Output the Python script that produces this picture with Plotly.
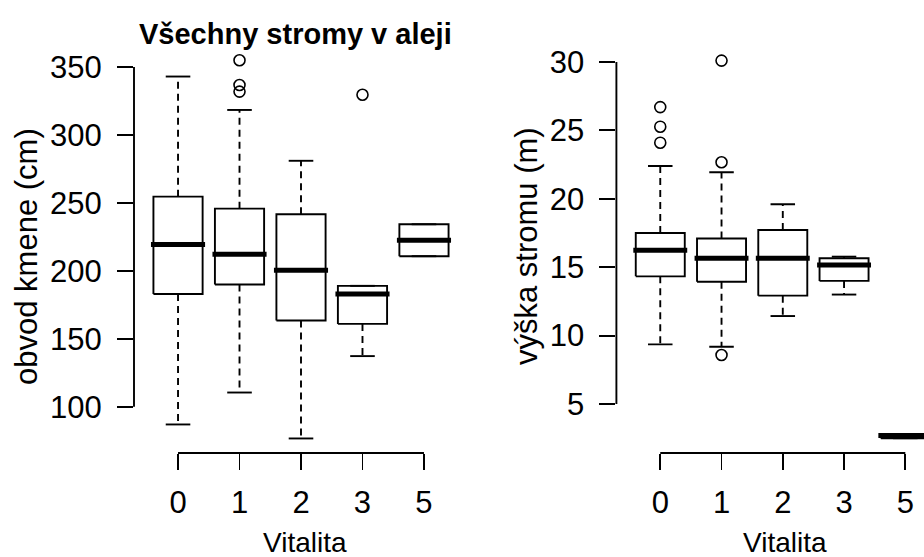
import plotly.graph_objects as go

# ---------------- data ----------------
categories = ["0", "1", "2", "3", "5"]

# obvod kmene (cm)
obvod_low = [87, 110.5, 76.7, 137.3, 210.8]
obvod_q1 = [183, 190, 163.5, 161, 210.8]
obvod_med = [219.5, 212.3, 200.5, 183, 222.5]
obvod_q3 = [254.6, 245.8, 241.7, 189, 234.3]
obvod_high = [343, 318.4, 281, 189, 234.3]
obvod_out_cat = ["1", "1", "1", "3"]
obvod_out_val = [355, 336.8, 331.9, 329.6]
obvod_ticks = [100, 150, 200, 250, 300, 350]

# výška stromu (m)
vyska_low = [9.36, 9.19, 11.43, 13.0, 2.5]
vyska_q1 = [14.33, 13.94, 12.92, 14.0, 2.5]
vyska_med = [16.24, 15.65, 15.65, 15.16, 2.7]
vyska_q3 = [17.5, 17.1, 17.72, 15.65, 2.8]
vyska_high = [22.4, 21.94, 19.6, 15.77, 2.8]
vyska_out_cat = ["0", "0", "0", "1", "1", "1"]
vyska_out_val = [26.7, 25.27, 24.1, 30.1, 22.67, 8.58]
vyska_ticks = [5, 10, 15, 20, 25, 30]

title_text = "Všechny stromy v aleji"
ylab_left = "obvod kmene (cm)"
ylab_right = "výška stromu (m)"
xlab = "Vitalita"

# ---------------- style ----------------
FONT = "Liberation Sans, Arial, sans-serif"
FS_TICK = 31
FS_YLAB = 31
FS_XLAB = 28
HALF = 0.4      # half box width (boxwex 0.8)
STAPLE = 0.2    # half staple width
LW = 1.9

fig = go.Figure()


def add_boxes(low, q1, med, q3, high, out_cat, out_val, xa, ya):
    pos = list(range(1, len(categories) + 1))
    bx, by, mx, my, wx, wy, sx, sy = [], [], [], [], [], [], [], []
    for p, lo, a, m, b, hi in zip(pos, low, q1, med, q3, high):
        bx += [p - HALF, p + HALF, p + HALF, p - HALF, p - HALF, None]
        by += [a, a, b, b, a, None]
        mx += [p - HALF - 0.04, p + HALF + 0.04, None]
        my += [m, m, None]
        wx += [p, p, None, p, p, None]
        wy += [b, hi, None, a, lo, None]
        sx += [p - STAPLE, p + STAPLE, None, p - STAPLE, p + STAPLE, None]
        sy += [hi, hi, None, lo, lo, None]
    common = dict(xaxis=xa, yaxis=ya, showlegend=False, hoverinfo="skip", mode="lines")
    fig.add_trace(go.Scatter(x=wx, y=wy, line=dict(color="black", width=LW, dash="7px,5px"), **common))
    fig.add_trace(go.Scatter(x=sx, y=sy, line=dict(color="black", width=LW), **common))
    fig.add_trace(go.Scatter(x=bx, y=by, line=dict(color="black", width=LW), **common))
    fig.add_trace(go.Scatter(x=mx, y=my, line=dict(color="black", width=5), **common))
    ox = [categories.index(c) + 1 for c in out_cat]
    fig.add_trace(go.Scatter(x=ox, y=out_val, mode="markers", xaxis=xa, yaxis=ya,
                             showlegend=False, hoverinfo="skip",
                             marker=dict(symbol="circle-open", size=11, color="black",
                                         line=dict(width=1.6, color="black"))))


add_boxes(obvod_low, obvod_q1, obvod_med, obvod_q3, obvod_high, obvod_out_cat, obvod_out_val, "x", "y")
add_boxes(vyska_low, vyska_q1, vyska_med, vyska_q3, vyska_high, vyska_out_cat, vyska_out_val, "x2", "y2")

W, H = 924, 557
ydom = [1 - 453 / H, 1 - 45 / H]

tick_style = dict(ticks="outside", ticklen=16, tickwidth=LW, tickcolor="black",
                  showgrid=False, zeroline=False, showline=False,
                  tickfont=dict(family=FONT, size=FS_TICK, color="black"))
xcommon = dict(tickvals=list(range(1, len(categories) + 1)), ticktext=categories,
               ticklabelstandoff=6, **tick_style)
ycommon = dict(ticklabelstandoff=9, **tick_style)

fig.update_layout(
    width=W, height=H,
    margin=dict(l=0, r=0, t=0, b=0),
    paper_bgcolor="white", plot_bgcolor="white",
    font=dict(family=FONT, color="black"),
    xaxis=dict(domain=[134 / W, 468 / W], range=[0.284, 5.716], anchor="y", **xcommon),
    yaxis=dict(domain=ydom, range=[66, 366.2], tickvals=obvod_ticks, anchor="x", **ycommon),
    xaxis2=dict(domain=[616.4 / W, 1.0], range=[0.284, 5.305], anchor="y2", **xcommon),
    yaxis2=dict(domain=ydom, range=[1.42, 31.24], tickvals=vyska_ticks, anchor="x2", **ycommon),
)

# R-style axis lines spanning only first..last tick
line = dict(color="black", width=LW)
for xa, ya, yt in (("x", "y", obvod_ticks), ("x2", "y2", vyska_ticks)):
    fig.add_shape(type="line", xref=f"{xa} domain", yref=ya, x0=0, x1=0,
                  y0=min(yt), y1=max(yt), line=line)
    fig.add_shape(type="line", xref=xa, yref=f"{ya} domain", x0=1, x1=len(categories),
                  y0=0, y1=0, line=line)

ann = [
    dict(text="<b>" + title_text + "</b>", x=295.5 / W, y=1 - 34 / H, font=dict(size=29)),
    dict(text=ylab_left, x=26 / W, y=1 - 257 / H, textangle=-90, font=dict(size=FS_YLAB)),
    dict(text=ylab_right, x=527 / W, y=1 - 246 / H, textangle=-90, font=dict(size=FS_YLAB)),
    dict(text=xlab, x=304.5 / W, y=1 - 542 / H, font=dict(size=FS_XLAB)),
    dict(text=xlab, x=784.5 / W, y=1 - 542 / H, font=dict(size=FS_XLAB)),
]
for a in ann:
    fig.add_annotation(xref="paper", yref="paper", showarrow=False,
                       xanchor="center", yanchor="middle",
                       font_family=FONT, font_color="black", **a)

fig.write_html(
    "out.html",
    config={"displayModeBar": False, "staticPlot": True},
    post_script="document.body.style.margin='0';document.body.style.overflow='hidden';",
)
